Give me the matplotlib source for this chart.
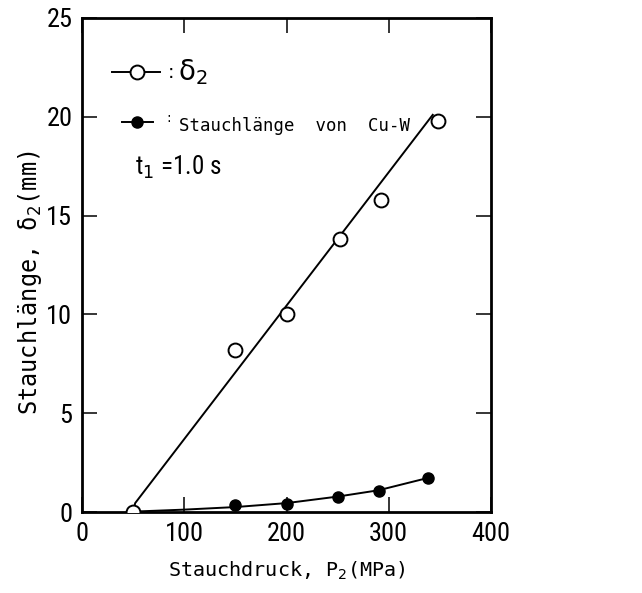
import matplotlib
matplotlib.use("Agg")
import matplotlib.pyplot as plt
from matplotlib import font_manager
from matplotlib.lines import Line2D

# measured points, Stauchdruck P2 (MPa) vs Stauchlaenge (mm)
p_open = [50, 150, 200, 252, 292, 348]
d_open = [0.0, 8.2, 10.0, 13.8, 15.8, 19.8]
p_fill = [50, 150, 200, 250, 290, 338]
d_fill = [0.0, 0.35, 0.42, 0.78, 1.05, 1.72]

# hand drawn curves through the points
fit_open_x = [50, 52, 343]
fit_open_y = [0.0, 0.45, 20.1]
fit_fill_x = [50, 100, 150, 200, 250, 290, 338]
fit_fill_y = [0.02, 0.12, 0.25, 0.45, 0.78, 1.1, 1.72]

xticks = [0, 100, 200, 300, 400]
yticks = [0, 5, 10, 15, 20, 25]

have = {f.name for f in font_manager.fontManager.ttflist}
narrow = next((n for n in ["Liberation Sans Narrow", "DejaVu Sans Condensed", "Roboto Condensed",
                           "Open Sans Condensed", "Roboto"] if n in have), "DejaVu Sans")
mono = next((n for n in ["DejaVu Sans Mono", "Liberation Mono"] if n in have), "monospace")

fig = plt.figure(figsize=(6.42, 5.93), dpi=100)
ax = fig.add_axes([82 / 642, 1 - 512 / 593, 409 / 642, 494 / 593])

ax.plot(fit_open_x, fit_open_y, color="black", lw=1.4, zorder=2)
ax.plot(fit_fill_x, fit_fill_y, color="black", lw=1.4, zorder=2)
ax.plot(p_fill, d_fill, "o", ms=8, color="black", zorder=3)
ax.plot(p_open, d_open, "o", ms=10, mfc="white", mec="black", mew=1.4, zorder=4)

ax.set_xlim(0, 400)
ax.set_ylim(0, 25)
ax.set_xticks(xticks)
ax.set_yticks(yticks)
ax.tick_params(direction="in", length=11, width=1.1, top=True, right=True, pad=7)
for lab in ax.get_xticklabels() + ax.get_yticklabels():
    lab.set_family(narrow)
    lab.set_fontsize(19)
for s in ax.spines.values():
    s.set_linewidth(2)

ax.set_xlabel("Stauchdruck, P$_2$(MPa)", family=mono, fontsize=14.5)
ax.set_ylabel("Stauchlänge, δ$_2$(mm)", family=mono, fontsize=17)
ax.xaxis.set_label_coords(0.5, -(560 - 512) / 494)
ax.yaxis.set_label_coords((44 - 82) / 409, (512 - 283) / 494)

# legend drawn by hand like the original
def px(x, y):
    return ((x - 82) / 409, (512 - y) / 494)

l1 = Line2D([px(112, 0)[0], px(160, 0)[0]], [px(0, 72)[1]] * 2, color="black", lw=1.4,
            transform=ax.transAxes)
ax.add_line(l1)
ax.plot(*px(137, 72), "o", ms=10, mfc="white", mec="black", mew=1.4, transform=ax.transAxes, clip_on=False)
ax.text(*px(168, 72), ":", transform=ax.transAxes, fontsize=14, va="center")
ax.text(*px(178, 72), "δ$_2$", transform=ax.transAxes, fontsize=20, va="center")

l2 = Line2D([px(122, 0)[0], px(153, 0)[0]], [px(0, 122)[1]] * 2, color="black", lw=1.4,
            transform=ax.transAxes)
ax.add_line(l2)
ax.plot(*px(137, 122), "o", ms=8, color="black", transform=ax.transAxes, clip_on=False)
ax.text(*px(166, 118), ":", transform=ax.transAxes, fontsize=10, va="center")
ax.text(*px(179, 126), "Stauchlänge  von  Cu-W", transform=ax.transAxes, family=mono,
        fontsize=12.5, va="center")
ax.text(*px(135, 167), "t$_1$ =1.0 s", transform=ax.transAxes, family=narrow,
        fontsize=18, va="center")

fig.savefig("out.png", dpi=100)
